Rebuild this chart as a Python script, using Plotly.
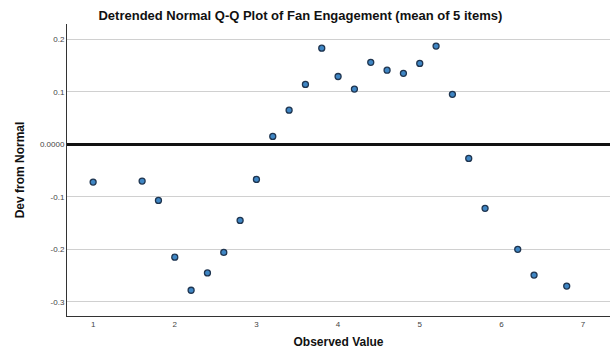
import plotly.graph_objects as go

# Observed values and their detrended deviations
observed = [1.0, 1.6, 1.8, 2.0, 2.2, 2.4, 2.6, 2.8, 3.0, 3.2, 3.4, 3.6, 3.8,
            4.0, 4.2, 4.4, 4.6, 4.8, 5.0, 5.2, 5.4, 5.6, 5.8, 6.2, 6.4, 6.8]
deviation = [-0.072, -0.070, -0.107, -0.215, -0.278, -0.245, -0.206, -0.145,
             -0.067, 0.015, 0.065, 0.114, 0.183, 0.129, 0.105, 0.156, 0.141,
             0.135, 0.154, 0.187, 0.095, -0.027, -0.122, -0.200, -0.249, -0.270]

x_ticks = [1, 2, 3, 4, 5, 6, 7]
y_ticks = [0.2, 0.1, 0.0, -0.1, -0.2, -0.3]
y_tick_text = ["0.2", "0.1", "0.0000", "-0.1", "-0.2", "-0.3"]

fig = go.Figure()
fig.add_trace(go.Scatter(
    x=observed, y=deviation, mode="markers",
    marker=dict(size=6, color="#3f86c4",
                line=dict(color="#1f3550", width=1.3)),
    showlegend=False,
))

fig.update_layout(
    width=613, height=353,
    margin=dict(l=67, r=3, t=24, b=37),
    paper_bgcolor="white", plot_bgcolor="white",
    font=dict(family="Liberation Sans, Arial, sans-serif", color="#222"),
    title=dict(text="<b>Detrended Normal Q-Q Plot of Fan Engagement (mean of 5 items)</b>",
               x=0.49, xanchor="center", y=0.97, yanchor="top",
               font=dict(size=13, color="#111")),
    xaxis=dict(range=[0.68, 7.33], tickvals=x_ticks, showgrid=False,
               showline=True, linecolor="#333", linewidth=1, zeroline=False,
               ticks="", tickfont=dict(size=8, color="#444"),
               title=dict(text="<b>Observed Value</b>", font=dict(size=12, color="#111"),
                          standoff=10)),
    yaxis=dict(range=[-0.327, 0.229], tickvals=y_ticks, ticktext=y_tick_text,
               showgrid=True, gridcolor="#d0d0d0", gridwidth=1,
               showline=True, linecolor="#333", linewidth=1,
               zeroline=True, zerolinecolor="#111", zerolinewidth=3,
               ticks="", tickfont=dict(size=8, color="#444"),
               title=dict(text="<b>Dev from Normal</b>", font=dict(size=12, color="#111"),
                          standoff=12)),
)

fig.write_html("out.html")
